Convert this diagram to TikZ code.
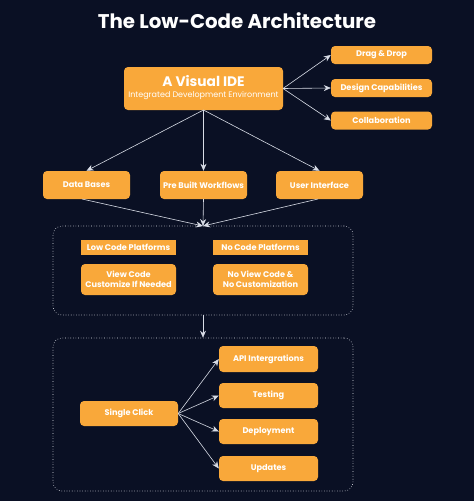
\documentclass[tikz,border=0pt]{standalone}
\usepackage{fontspec}
\setmainfont{Poppins}
\usetikzlibrary{arrows.meta}
\definecolor{navy}{HTML}{0A1024}
\definecolor{amber}{HTML}{F9A83A}
\definecolor{edge}{HTML}{D8DCE6}
\tikzset{
	box/.style={fill=amber, rounded corners=4pt, text=white, font=\bfseries\fontsize{8.2}{9.6}\selectfont, align=center, inner sep=0pt},
	tag/.style={fill=amber, text=white, font=\bfseries\fontsize{8.2}{9.6}\selectfont, inner sep=0pt},
	link/.style={draw=edge, line width=0.6pt, -{Stealth[length=7pt,width=6pt]}},
	frame/.style={draw=edge!70, dotted, line width=0.6pt, rounded corners=9pt}
}
\begin{document}
\begin{tikzpicture}[x=1pt, y=-1pt]
				\fill[navy] (0,0) rectangle (474,501);
				\useasboundingbox (0,0) rectangle (474,501);
				%title
				\node[text=white, font=\bfseries\fontsize{19.8}{22}\selectfont] (title) at (237, 21){The Low-Code Architecture};
				
				%visual ide
				\node[box, minimum width=159pt, minimum height=43pt] (ide) at (203.5, 88.5){};
				\node[text=white, font=\bfseries\fontsize{13.8}{15}\selectfont] (idename) at (203.5, 81){A Visual IDE};
				\node[text=white, font=\fontsize{8}{9}\selectfont] (idesub) at (203.5, 96){Integrated Development Environment};
				\coordinate (ideout) at (283, 88.5);
				
				\node[box, minimum width=101pt, minimum height=18pt] (drag) at (381.5, 55){Drag \& Drop};
				\node[box, minimum width=101pt, minimum height=18pt] (design) at (381.5, 88){Design Capabilities};
				\node[box, minimum width=101pt, minimum height=18pt] (collab) at (381.5, 120.5){Collaboration};
				\foreach \n in {drag, design, collab}{
					\draw[link] (ideout) -- (\n.west);
				}
				
				%second row
				\node[box, minimum width=87pt, minimum height=28pt] (data) at (86.5, 185){Data Bases};
				\node[box, minimum width=87pt, minimum height=28pt] (flows) at (203.5, 185){Pre Built Workflows};
				\node[box, minimum width=87pt, minimum height=28pt] (ui) at (319.5, 185){User Interface};
				\coordinate (idebot) at (203.5, 110);
				\draw[link] (idebot) -- (data.north);
				\draw[link] (idebot) -- (flows.north);
				\draw[link] (idebot) -- (ui.north);
				
				%platforms
				\node[frame, minimum width=300pt, minimum height=89pt] (plat) at (203, 270.5){};
				\coordinate (platin) at (203, 226);
				\draw[link] (82, 199) -- (platin);
				\draw[link] (flows.south) -- (platin);
				\draw[link] (318, 199) -- (platin);
				\node[tag, minimum width=95pt, minimum height=15pt] (low) at (128.5, 247.5){Low Code Platforms};
				\node[tag, minimum width=95pt, minimum height=15pt] (nocode) at (260.5, 247.5){No Code Platforms};
				\node[box, minimum width=95pt, minimum height=31pt] (view) at (128.5, 279.5){View Code\\Customize If Needed};
				\node[box, minimum width=95pt, minimum height=31pt] (noview) at (260.5, 279.5){No View Code \&\\No Customization};
				
				%deploy
				\node[frame, minimum width=300pt, minimum height=153pt] (ship) at (203, 414.5){};
				\draw[link] (plat.south) -- (ship.north);
				\node[box, minimum width=98pt, minimum height=25pt] (click) at (129, 413.5){Single Click};
				\node[box, minimum width=99pt, minimum height=26pt] (api) at (268.5, 359){API Intergrations};
				\node[box, minimum width=99pt, minimum height=25pt] (test) at (268.5, 395.5){Testing};
				\node[box, minimum width=99pt, minimum height=25pt] (deploy) at (268.5, 431.5){Deployment};
				\node[box, minimum width=99pt, minimum height=25pt] (upd) at (268.5, 468.5){Updates};
				\foreach \n in {api, test, deploy, upd}{
					\draw[link] (click.east) -- (\n.west);
				}
\end{tikzpicture}
\end{document}
